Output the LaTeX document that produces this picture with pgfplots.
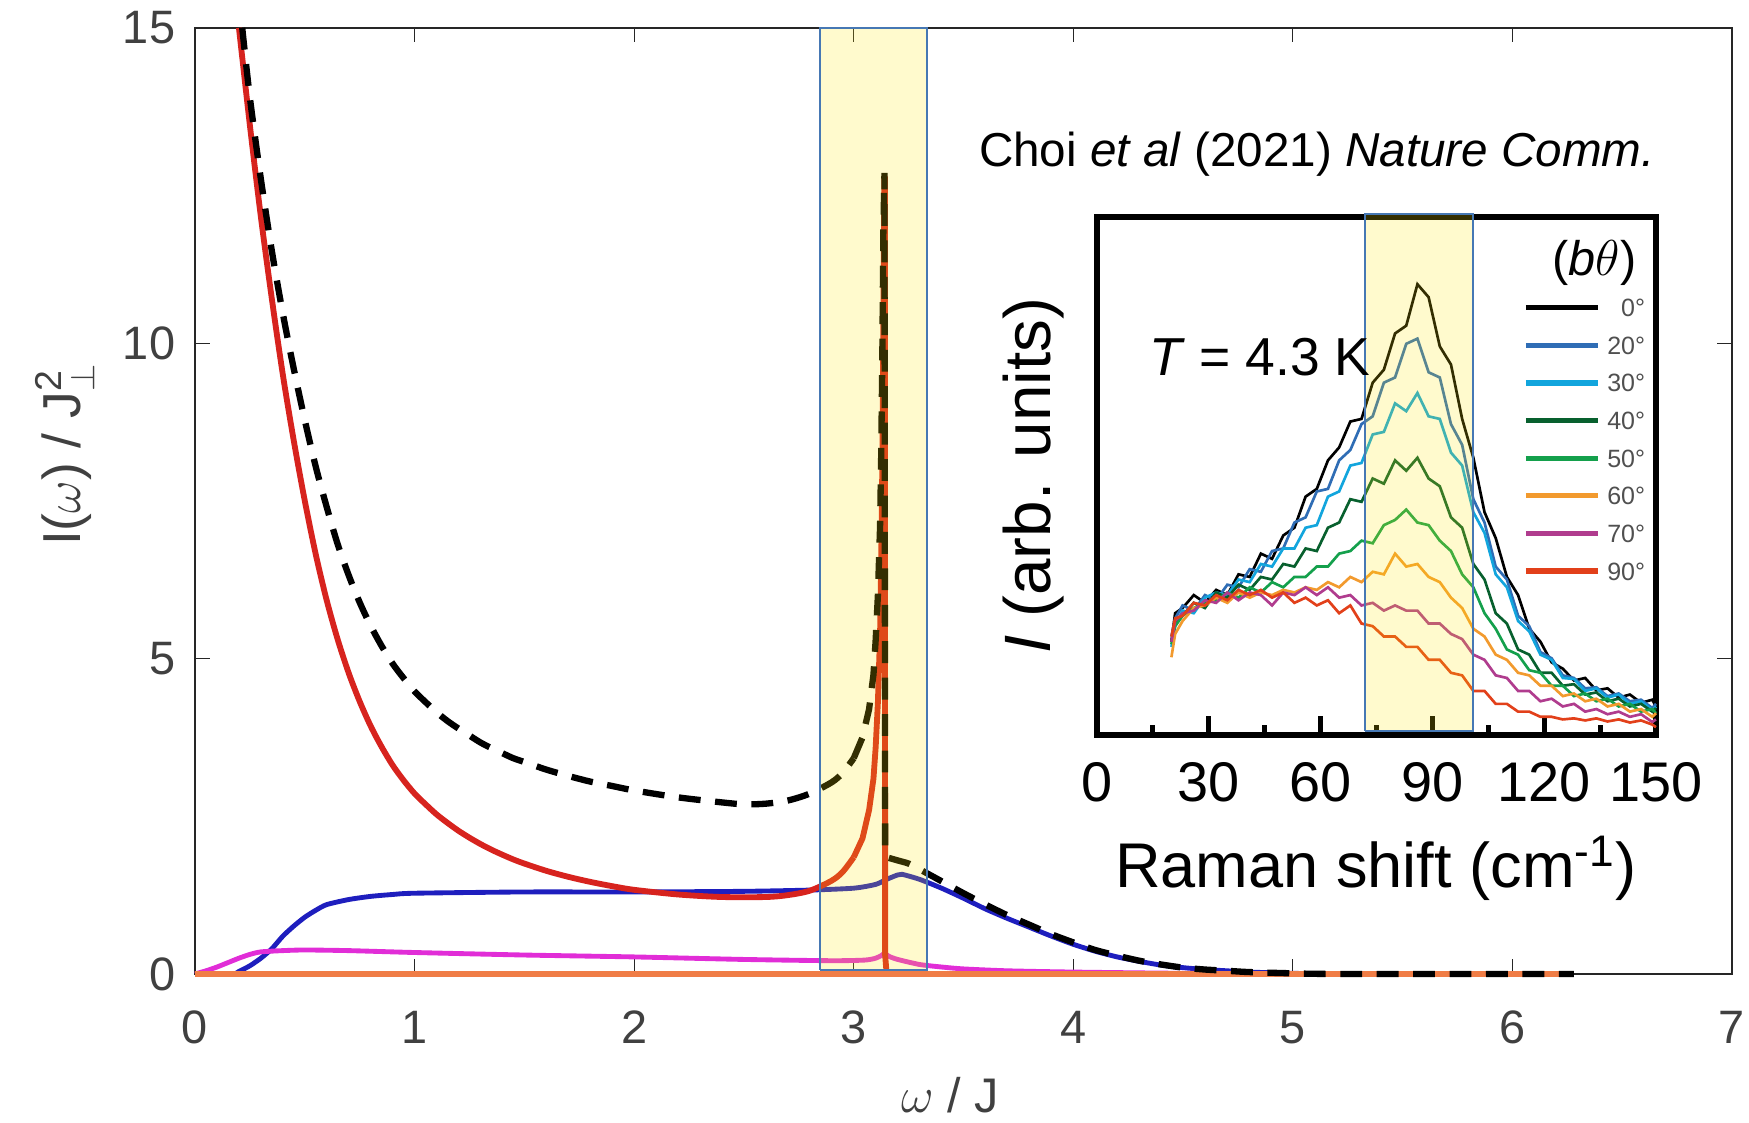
\documentclass[border=0pt]{standalone}
\usepackage{pgfplots}
\pgfplotsset{compat=1.18}
\usepackage{pgfplotstable}
\usepackage{amsmath}
\usepackage{fontspec}
\setmainfont{Liberation Sans}
\setsansfont{Liberation Sans}

\definecolor{axgray}{RGB}{38,38,38}
\definecolor{lblgray}{RGB}{64,64,64}
\definecolor{cRed}{RGB}{215,35,30}
\definecolor{cBlue}{RGB}{30,30,190}
\definecolor{cPink}{RGB}{225,45,215}
\definecolor{cOrange}{RGB}{240,125,70}
\definecolor{bandY}{RGB}{255,230,5}
\definecolor{bandE}{RGB}{70,120,180}
\definecolor{sA}{RGB}{0,0,0}
\definecolor{sB}{RGB}{47,109,181}
\definecolor{sC}{RGB}{18,165,221}
\definecolor{sD}{RGB}{8,96,46}
\definecolor{sE}{RGB}{20,160,76}
\definecolor{sF}{RGB}{242,154,46}
\definecolor{sG}{RGB}{176,60,142}
\definecolor{sH}{RGB}{226,64,26}
\definecolor{leggray}{RGB}{80,80,80}

\pgfplotstableread{
x   a0   a20  a30  a40  a50  a60  a70  a90
20  18   19   17   18   17.5 15   18   19
21  23.5 22.5 21   21.5 21   19.5 22   22.5
23  24.5 25   24   23   23   22   23.5 23
26  27   24   23.5 25.5 24.5 24.5 24   25.5
29  25.5 27   26.5 24.5 25.5 25   26   25
32  28   26   27.5 27.5 26   26.5 25.5 27
35  27   29   27   26.5 27.5 25.5 27.5 26
38  31   28.5 30   29   26.5 27.5 26   28
41  30.5 32   29.5 28   28.5 26.5 27.5 27
44  35   31.5 33   30.5 27.5 27.5 27   28
47  34   35.5 32.5 30   29.5 27   25   26.5
50  38.5 36   36   33   28.5 28   27.5 27.5
53  40   41   36   32.5 30.5 27.5 27   25.5
56  46   42   40   36   30.5 28.5 28.5 26.5
59  47.5 47   40.5 35.5 32.5 28   27   25
62  53   47.5 46   40   32.5 29.5 28.5 26
65  55.5 53   47   41   35   28.5 26.5 23.5
68  60.5 55   52   45.5 35.5 30.5 27   25
71  61   60   52.5 45   37.5 29.5 25   21.5
74  68   61.5 58   49.5 37   31.5 25.5 21
77  70.5 68   58.5 48.5 40.5 31   24   19
80  77.5 69   64   53   41.5 35   25   19
83  79   75.5 62.5 51   43.5 32.5 24   17
86  87   76.5 66   53.5 41   33   24   17
89  84.5 70   61.5 49.5 40.5 30.5 21.5 14.5
92  75   69   61   48   37.5 29.5 21.5 14.5
95  71.5 60   54.5 42   35.5 26.5 19.5 12
98  61   56   52   40   31   24.5 18.5 11.5
101 53.5 45.5 43   33   28.5 20.5 15.5 8.5
104 43   41   39   30   23.5 19   14.5 8.5
107 38   32.5 31   23.5 20.5 15.5 11.5 6
110 30.5 30   28.5 21.5 16.5 14.5 11   6
113 27   23   22   16.5 15.5 12   8.5  4.5
116 20.5 21   20   15.5 12.5 11.5 8.5  4.5
119 18   16   15.5 12   12   9.5  6.5  3.5
122 14   14.8 14.5 12   9.5  9.5  7    3.5
125 12.8 11.5 11   9.5  9.5  7.5  5.5  3
128 10.5 11   10.8 9.8  7.5  8    6    3.2
131 11   9    8.5  7.8  8    6.5  4.5  2.8
134 8.6  9.2  9    8.2  6.5  7    5    3.2
137 9    7.5  7.2  6.5  7    5.5  4    2.6
140 7.2  8    7.8  7    5.5  6    4.5  3
143 7.8  6.5  6    5.5  6    4.5  3.5  2.4
146 6.2  6.8  6.5  6    4.5  5    4    2.8
149 6.8  5.2  4.8  4.5  5    3.5  2.5  2
150 5.5  6    5.5  5.2  4.2  4.2  3    1.5
}\insetdata

\begin{document}
\begin{tikzpicture}
\useasboundingbox (-80.3pt,-61.3pt) rectangle (639.8pt,401pt);

\begin{axis}[
  at={(0pt,0pt)}, anchor=south west,
  scale only axis, width=632.8pt, height=389.5pt,
  xmin=0, xmax=7, ymin=0, ymax=15,
  clip=false,
  xtick={0,1,2,3,4,5,6,7}, ytick={0,5,10,15},
  tick align=inside, major tick length=6pt,
  axis line style={axgray, line width=0.5pt},
  tick style={axgray, line width=0.5pt},
  /pgf/number format/assume math mode=true,
  ticklabel style={font=\fontsize{19.3}{22}\selectfont, text=lblgray},
  xticklabel style={anchor=base, inner sep=0pt, yshift=-28.8pt},
  yticklabel style={anchor=east, inner sep=0pt, xshift=-8pt},
  xlabel={$\omega$ / J},
  xlabel style={at={(axis description cs:0.491,0)}, anchor=base, yshift=-57.2pt, font=\fontsize{20}{24}\selectfont, text=lblgray},
  ylabel={I($\omega$) / J$^{\text{2}}_{\perp}$},
  ylabel style={at={(axis description cs:-0.0747,0.549)}, anchor=base, font=\fontsize{22}{24}\selectfont, text=lblgray},
]
% blue
\addplot[cBlue, line width=2pt, smooth, tension=0.4] coordinates {
(0,0) (0.17,0) (0.2,0.04) (0.25,0.13) (0.3,0.25) (0.35,0.4) (0.4,0.6) (0.45,0.76)
(0.5,0.9) (0.55,1.01) (0.6,1.1) (0.7,1.18) (0.8,1.23) (0.9,1.26) (1.0,1.28)
(1.5,1.3) (2.0,1.3) (2.5,1.31) (2.8,1.33) (3.0,1.36) (3.1,1.42) (3.15,1.5)
(3.2,1.57) (3.22,1.58) (3.3,1.5) (3.4,1.36) (3.5,1.2) (3.6,1.03) (3.7,0.88)
(3.8,0.74) (3.9,0.6) (4.0,0.47) (4.1,0.36) (4.2,0.27) (4.3,0.2) (4.4,0.14)
(4.5,0.1) (4.6,0.07) (4.7,0.05) (4.8,0.03) (5.0,0.01) (5.2,0)};
% pink
\addplot[cPink, line width=2pt, smooth, tension=0.4] coordinates {
(0,0) (0.05,0.05) (0.1,0.11) (0.15,0.18) (0.2,0.25) (0.25,0.31) (0.3,0.35)
(0.4,0.37) (0.5,0.38) (0.7,0.37) (1.0,0.34) (1.5,0.3) (2.0,0.27) (2.5,0.23)
(2.9,0.21) (3.05,0.22) (3.1,0.25) (3.13,0.3) (3.14,0.33) (3.16,0.28) (3.2,0.23)
(3.3,0.15) (3.4,0.11) (3.5,0.08) (3.7,0.05) (4.0,0.03) (4.5,0.01) (5.0,0)};
% red, smooth part
\addplot[cRed, line width=2.4pt, smooth, tension=0.5] coordinates {
(0.2,15) (0.25,13.45) (0.3,12.0) (0.35,10.7) (0.4,9.5) (0.45,8.45) (0.5,7.5)
(0.55,6.65) (0.6,5.92) (0.65,5.3) (0.7,4.77) (0.75,4.32) (0.8,3.93) (0.85,3.6)
(0.9,3.31) (0.95,3.07) (1.0,2.86) (1.05,2.69) (1.1,2.53) (1.15,2.395) (1.2,2.27)
(1.25,2.16) (1.3,2.06) (1.35,1.97) (1.4,1.89) (1.45,1.815) (1.5,1.75) (1.6,1.635)
(1.7,1.54) (1.8,1.46) (1.9,1.392) (2.0,1.334) (2.2,1.26) (2.4,1.22) (2.6,1.22)
(2.7,1.25) (2.8,1.32) (2.9,1.48) (2.95,1.62) (3.0,1.85)};
% red, spike
\addplot[cRed, line width=2.4pt] coordinates {
(3.0,1.85) (3.04,2.15) (3.07,2.6) (3.09,3.1) (3.10,3.6) (3.11,4.3) (3.12,5.4) (3.125,6.5)
(3.13,8.0) (3.135,10.5) (3.139,12.6) (3.142,12.6) (3.143,0.3) (3.15,0)};
% orange
\addplot[cOrange, line width=2.2pt] coordinates {(0,0) (6.28,0)};
% dashed total
\addplot[black, line width=2.6pt, dash pattern=on 9pt off 6pt, smooth, tension=0.5] coordinates {
(0.215,15) (0.25,13.89) (0.3,12.6) (0.35,11.46) (0.4,10.47) (0.45,9.59) (0.5,8.78)
(0.55,8.04) (0.6,7.4) (0.65,6.81) (0.7,6.32) (0.75,5.89) (0.8,5.52) (0.85,5.2)
(0.9,4.92) (0.95,4.69) (1.0,4.48) (1.05,4.31) (1.1,4.15) (1.15,4.01) (1.2,3.89)
(1.25,3.78) (1.3,3.67) (1.35,3.58) (1.4,3.5) (1.45,3.42) (1.5,3.36) (1.6,3.24)
(1.7,3.14) (1.8,3.05) (1.9,2.98) (2.0,2.91) (2.2,2.8) (2.4,2.72) (2.5,2.69)
(2.6,2.7) (2.7,2.75) (2.8,2.86) (2.9,3.04) (2.95,3.19) (3.0,3.42)};
\addplot[black, line width=2.6pt, dash pattern=on 9pt off 6pt] coordinates {
(3.0,3.42) (3.04,3.75)
(3.07,4.2) (3.09,4.75) (3.1,5.3) (3.11,6.0) (3.12,7.1) (3.125,8.2) (3.13,9.7)
(3.135,11.8) (3.14,12.7) (3.143,1.9) (3.16,1.84)};
\addplot[black, line width=2.6pt, dash pattern=on 9pt off 6pt, smooth, tension=0.4] coordinates {
(3.16,1.84) (3.2,1.8) (3.25,1.75)
(3.3,1.66) (3.4,1.47) (3.5,1.28) (3.6,1.1) (3.7,0.93) (3.8,0.78) (3.9,0.63)
(4.0,0.5) (4.1,0.38) (4.2,0.29) (4.3,0.21) (4.4,0.15) (4.5,0.1) (4.6,0.07)
(4.7,0.05) (4.8,0.03) (5.0,0.01) (5.2,0) (6.28,0)};
% highlight band
\addplot[draw=none, fill=bandY, fill opacity=0.2, forget plot] coordinates {(2.845,0.06) (3.335,0.06) (3.335,15) (2.845,15)} -- cycle;
\addplot[bandE, line width=0.9pt, forget plot] coordinates {(2.845,0.06) (3.335,0.06) (3.335,15) (2.845,15) (2.845,0.06)};
\node[anchor=base west, font=\fontsize{19.6}{22}\selectfont, text=black] at (rel axis cs:0.5045,0.8534) {Choi \textit{et al} (2021) \textit{Nature Comm.}};
\end{axis}

\begin{axis}[
  at={(371.3pt,98.4pt)}, anchor=south west,
  scale only axis, width=230.2pt, height=213.3pt,
  xmin=0, xmax=150, ymin=0, ymax=100,
  clip=false,
  axis line style={black, line width=2.5pt},
  xtick={0,30,60,90,120,150}, minor xtick={15,45,75,105,135},
  ytick=\empty, xtick pos=left,
  tick align=inside, major tick length=8pt, minor tick length=4.3pt,
  tick style={black, line width=2pt},
  /pgf/number format/assume math mode=true,
  ticklabel style={font=\fontsize{23}{26}\selectfont, text=black},
  xticklabel style={anchor=base, inner sep=0pt, yshift=-27.5pt},
  xlabel={Raman shift (cm\textsuperscript{-1})},
  xlabel style={at={(axis description cs:0.499,0)}, anchor=base, yshift=-63pt, font=\fontsize{26}{30}\selectfont},
  ylabel={\textit{I} (arb. units)},
  ylabel style={at={(axis description cs:-0.0838,0.5)}, anchor=base, font=\fontsize{27}{30}\selectfont},
  legend cell align=right,
  legend image code/.code={\draw[#1, line width=2.2pt] (0pt,0pt) -- (29.8pt,0pt);},
  legend style={draw=none, fill=none, at={(rel axis cs:0.9805,0.8425)}, anchor=north east,
    font=\fontsize{10.3}{11}\selectfont, text=leggray, inner sep=0pt, outer sep=0pt,
    row sep=8pt, column sep=2.6pt,
    nodes={inner sep=0pt, text height=7.5pt, text depth=0pt}},
]
\addplot[sA, line width=1.1pt] table[x=x, y=a0] {\insetdata};
\addplot[sB, line width=1.1pt] table[x=x, y=a20] {\insetdata};
\addplot[sC, line width=1.1pt] table[x=x, y=a30] {\insetdata};
\addplot[sD, line width=1.1pt] table[x=x, y=a40] {\insetdata};
\addplot[sE, line width=1.1pt] table[x=x, y=a50] {\insetdata};
\addplot[sF, line width=1.1pt] table[x=x, y=a60] {\insetdata};
\addplot[sG, line width=1.1pt] table[x=x, y=a70] {\insetdata};
\addplot[sH, line width=1.1pt] table[x=x, y=a90] {\insetdata};
\legend{0°,20°,30°,40°,50°,60°,70°,90°}
\addplot[draw=none, fill=bandY, fill opacity=0.2, forget plot] coordinates {(72,0.7) (101,0.7) (101,100.6) (72,100.6)} -- cycle;
\addplot[bandE, line width=0.9pt, forget plot] coordinates {(72,0.7) (101,0.7) (101,100.6) (72,100.6) (72,0.7)};
\node[anchor=base east, font=\fontsize{20}{24}\selectfont] at (rel axis cs:0.9805,0.886) {(\textit{b}$\theta$)};
\node[anchor=base west, font=\fontsize{22}{26}\selectfont] at (rel axis cs:0.078,0.694) {\textit{T} = 4.3 K};
\end{axis}
\end{tikzpicture}
\end{document}
